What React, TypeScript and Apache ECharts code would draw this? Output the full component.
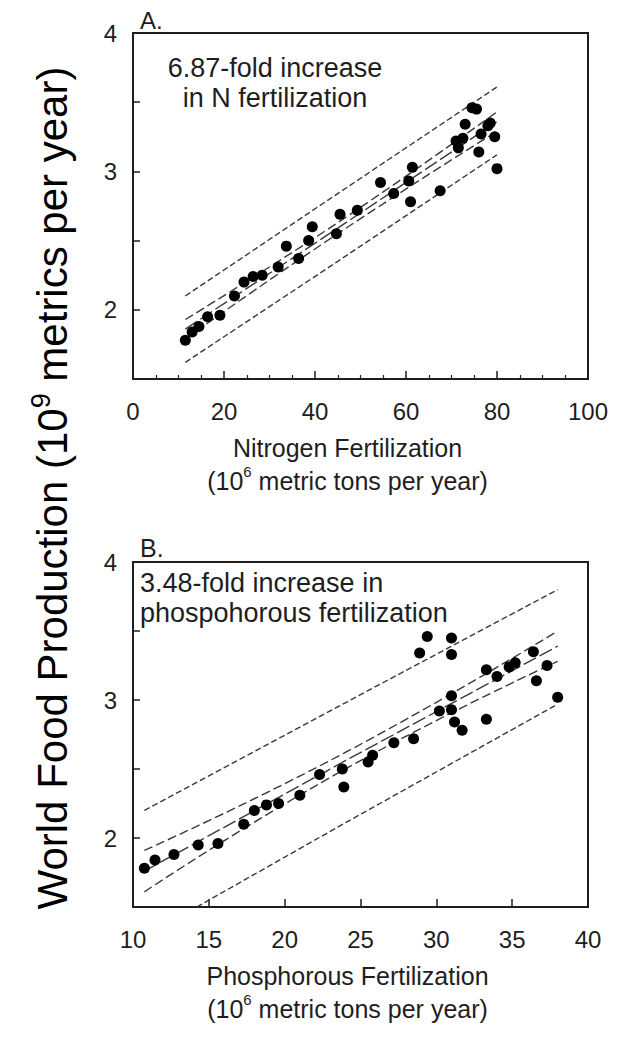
import React, { useEffect, useRef } from "react";
import * as echarts from "echarts";

// World food production (10^9 t / yr), one value per year
const foodProduction = [
  1.78, 1.84, 1.88, 1.95, 1.96, 2.1, 2.2, 2.24, 2.25, 2.31, 2.46, 2.37, 2.5, 2.6, 2.55, 2.69, 2.72,
  2.92, 2.84, 2.93, 2.78, 3.03, 2.86, 3.22, 3.17, 3.24, 3.27, 3.35, 3.14, 3.25, 3.02, 3.46, 3.34, 3.45, 3.33,
];
// Nitrogen fertilization (10^6 t / yr), same years
const nitrogenFert = [
  11.5, 13.0, 14.5, 16.4, 19.1, 22.3, 24.4, 26.4, 28.4, 31.9, 33.7, 36.4, 38.6, 39.4, 44.7, 45.5, 49.3,
  54.4, 57.3, 60.6, 61.0, 61.4, 67.5, 71.0, 71.5, 72.5, 76.5, 78.5, 76.0, 79.5, 80.0, 74.5, 73.0, 75.5, 78.0,
];
// Phosphorous fertilization (10^6 t / yr), same years
const phosphorusFert = [
  10.75, 11.45, 12.7, 14.3, 15.6, 17.3, 18.0, 18.8, 19.6, 21.0, 22.3, 23.9, 23.8, 25.8, 25.5, 27.2, 28.5,
  30.2, 31.2, 31.0, 31.7, 31.0, 33.3, 33.3, 34.0, 34.8, 35.2, 36.4, 36.6, 37.3, 38.0, 29.4, 28.9, 31.0, 31.0,
];

// Panel A regression, confidence and prediction lines
const nLineX = [11.5, 45, 80];
const nFit = [1.86, 2.59, 3.36];
const nCiUpper = [1.93, 2.63, 3.43];
const nCiLower = [1.79, 2.55, 3.29];
const nPiUpper = [2.1, 2.84, 3.61];
const nPiLower = [1.62, 2.35, 3.12];

// Panel B regression, confidence and prediction lines
const pLineX = [10.75, 24, 38];
const pFit = [1.76, 2.56, 3.39];
const pCiUpper = [1.91, 2.62, 3.5];
const pCiLower = [1.61, 2.5, 3.28];
const pPiUpper = [2.2, 2.98, 3.8];
const pPiLowerX = [14.2, 24, 38];
const pPiLower = [1.5, 2.11, 2.97];

const nTicks = [0, 20, 40, 60, 80, 100];
const pTicks = [10, 15, 20, 25, 30, 35, 40];
const foodTicks = [1.5, 2, 2.5, 3, 3.5, 4];

const FONT = '"Liberation Sans", Arial, Helvetica, sans-serif';
const INK = "#1e1e1e";
const LINE = "#3a3a3a";

const pairs = (xs: number[], ys: number[]) => xs.map((x, i) => [x, ys[i]]);

function lineSeries(idx: number, xs: number[], ys: number[], dash: number[], smooth = false) {
  return {
    type: "line",
    xAxisIndex: idx,
    yAxisIndex: idx,
    data: pairs(xs, ys),
    showSymbol: false,
    smooth,
    silent: true,
    lineStyle: { color: LINE, width: 1.4, type: dash },
    z: 2,
  };
}

function xAxisFor(idx: number, ticks: number[], name: string) {
  return {
    gridIndex: idx,
    type: "value",
    min: ticks[0],
    max: ticks[ticks.length - 1],
    interval: ticks[1] - ticks[0],
    axisLine: { show: false },
    axisTick: { show: true, inside: true, length: 8, lineStyle: { color: INK, width: 1.5 } },
    minorTick: idx === 0
      ? { show: true, splitNumber: 4, length: 4, lineStyle: { color: INK, width: 1.2 } }
      : { show: false },
    splitLine: { show: false },
    axisLabel: { fontFamily: FONT, fontSize: 24, color: INK, margin: 20 },
    name,
    nameLocation: "middle",
    nameGap: 52,
    nameTextStyle: {
      fontFamily: FONT,
      fontSize: 25,
      color: INK,
      lineHeight: 33,
      padding: [0, 26, 0, 0],
      rich: {
        t: { fontFamily: FONT, fontSize: 25, color: INK, lineHeight: 33 },
        s: { fontFamily: FONT, fontSize: 15, color: INK, lineHeight: 20, verticalAlign: "top" },
      },
    },
  };
}

function yAxisFor(idx: number) {
  return {
    gridIndex: idx,
    type: "value",
    min: foodTicks[0],
    max: foodTicks[foodTicks.length - 1],
    interval: foodTicks[1] - foodTicks[0],
    axisLine: { show: false },
    axisTick: { show: true, inside: true, length: 7, lineStyle: { color: INK, width: 1.5 } },
    splitLine: { show: false },
    axisLabel: {
      fontFamily: FONT,
      fontSize: 24,
      color: INK,
      margin: 16,
      formatter: (v: number) => (Number.isInteger(v) ? String(v) : ""),
    },
  };
}

function scatterSeries(idx: number, xs: number[]) {
  return {
    type: "scatter",
    xAxisIndex: idx,
    yAxisIndex: idx,
    data: pairs(xs, foodProduction),
    symbol: "circle",
    symbolSize: 11,
    itemStyle: { color: "#000000", opacity: 1 },
    z: 3,
  };
}

export default function App() {
  const ref = useRef<HTMLDivElement>(null);
  useEffect(() => {
    document.body.style.margin = "0";
    const chart = echarts.init(ref.current!, null, { renderer: "svg" });
    const option = {
      animation: false,
      backgroundColor: "#ffffff",
      grid: [
        { left: 133, top: 33, width: 455, height: 346, show: true, borderColor: INK, borderWidth: 2, backgroundColor: "transparent" },
        { left: 133, top: 562, width: 455, height: 345, show: true, borderColor: INK, borderWidth: 2, backgroundColor: "transparent" },
      ],
      xAxis: [
        xAxisFor(0, nTicks, "{t|Nitrogen Fertilization}\n{t|(10}{s|6}{t| metric tons per year)}"),
        xAxisFor(1, pTicks, "{t|Phosphorous Fertilization}\n{t|(10}{s|6}{t| metric tons per year)}"),
      ],
      yAxis: [yAxisFor(0), yAxisFor(1)],
      series: [
        lineSeries(0, nLineX, nPiUpper, [6, 3]),
        lineSeries(0, nLineX, nCiUpper, [9, 4], true),
        lineSeries(0, nLineX, nFit, [14, 4]),
        lineSeries(0, nLineX, nCiLower, [9, 4], true),
        lineSeries(0, nLineX, nPiLower, [6, 3]),
        scatterSeries(0, nitrogenFert),
        lineSeries(1, pLineX, pPiUpper, [6, 3]),
        lineSeries(1, pLineX, pCiUpper, [9, 4], true),
        lineSeries(1, pLineX, pFit, [14, 4]),
        lineSeries(1, pLineX, pCiLower, [9, 4], true),
        lineSeries(1, pPiLowerX, pPiLower, [6, 3]),
        scatterSeries(1, phosphorusFert),
      ],
      graphic: [
        {
          type: "text",
          x: 52,
          y: 488,
          rotation: Math.PI / 2,
          style: {
            text: "{t|World Food Production (10}{s|9}{t| metrics per year)}",
            align: "center",
            verticalAlign: "middle",
            fill: "#000",
            rich: {
              t: { fontFamily: FONT, fontSize: 42, fill: "#000", lineHeight: 50 },
              s: { fontFamily: FONT, fontSize: 27, fill: "#000", lineHeight: 30, verticalAlign: "top" },
            },
          },
        },
        {
          type: "text",
          x: 140,
          y: 20,
          style: { text: "A.", font: `24px ${FONT}`, fill: INK, align: "left", verticalAlign: "middle" },
        },
        {
          type: "text",
          x: 140,
          y: 548,
          style: { text: "B.", font: `25px ${FONT}`, fill: INK, align: "left", verticalAlign: "middle" },
        },
        {
          type: "text",
          x: 275,
          y: 83,
          style: {
            text: "6.87-fold increase\nin N fertilization",
            font: `27px ${FONT}`,
            lineHeight: 30,
            fill: INK,
            align: "center",
            verticalAlign: "middle",
          },
        },
        {
          type: "text",
          x: 140,
          y: 598,
          style: {
            text: "3.48-fold increase in\nphospohorous fertilization",
            font: `27px ${FONT}`,
            lineHeight: 30,
            fill: INK,
            align: "left",
            verticalAlign: "middle",
          },
        },
      ],
    };
    chart.setOption(option as any);
    return () => chart.dispose();
  }, []);
  return <div ref={ref} style={{ width: 623, height: 1038 }} />;
}
